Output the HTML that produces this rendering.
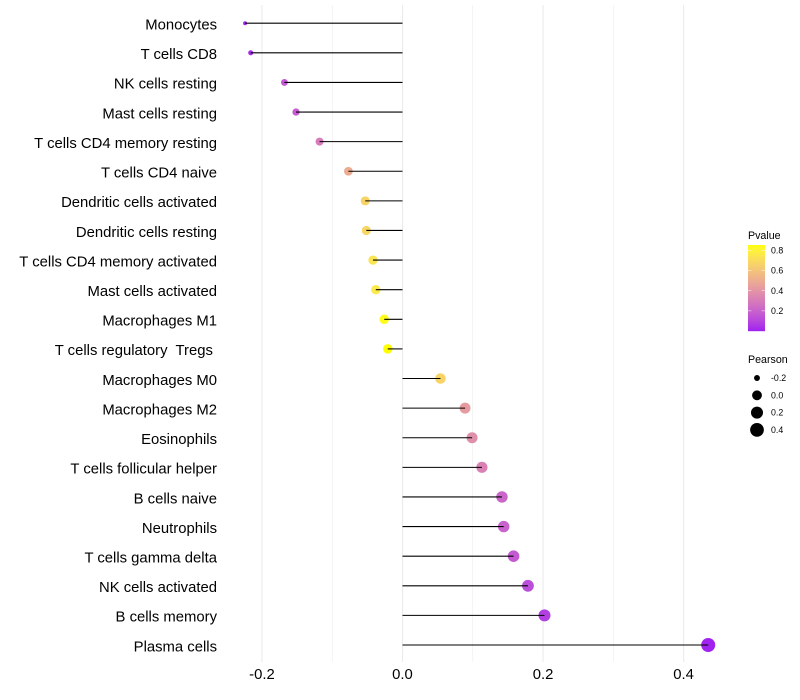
<!DOCTYPE html>
<html>
<head>
<meta charset="utf-8">
<title>Lollipop chart</title>
<style>
html,body{margin:0;padding:0;background:#fff;}
svg{display:block;font-family:"Liberation Sans",sans-serif;}
</style>
</head>
<body>
<svg id="chart" xmlns="http://www.w3.org/2000/svg" width="800" height="700" viewBox="0 0 800 700">
<rect x="0" y="0" width="800" height="700" fill="#ffffff"/>
</svg>
<script>
const categories = ["Monocytes","T cells CD8","NK cells resting","Mast cells resting","T cells CD4 memory resting","T cells CD4 naive","Dendritic cells activated","Dendritic cells resting","T cells CD4 memory activated","Mast cells activated","Macrophages M1","T cells regulatory  Tregs ","Macrophages M0","Macrophages M2","Eosinophils","T cells follicular helper","B cells naive","Neutrophils","T cells gamma delta","NK cells activated","B cells memory","Plasma cells"];
const pearson = [-0.224,-0.216,-0.168,-0.1515,-0.118,-0.077,-0.053,-0.0515,-0.042,-0.038,-0.026,-0.021,0.054,0.089,0.099,0.113,0.1415,0.144,0.158,0.1785,0.202,0.435];
const pvalue = [0.02,0.03,0.17,0.18,0.3,0.5,0.67,0.68,0.74,0.76,0.84,0.855,0.67,0.43,0.38,0.32,0.21,0.2,0.17,0.13,0.08,0.005];
const xMajorTicks = [-0.2,0,0.2,0.4];
const xMinorTicks = [-0.1,0.1,0.3];
const pvalueTicks = [0.8,0.6,0.4,0.2];
const pearsonLegend = [-0.2,0,0.2,0.4];

const svg = document.getElementById('chart');
const NS = 'http://www.w3.org/2000/svg';
function mk(tag, attrs, parent){
  const el = document.createElementNS(NS, tag);
  for (const k in attrs) el.setAttribute(k, attrs[k]);
  (parent || svg).appendChild(el);
  return el;
}
const xScale = v => 402.5 + v * 702.8;
const yScale = i => 23.2 + i * 29.61;
const rScale = v => 2 + 5 * Math.sqrt(Math.max(0, (v + 0.224) / 0.659));

function toLab(hex){
  const c = [1,3,5].map(i => parseInt(hex.substr(i,2),16)/255).map(u => u>0.04045?Math.pow((u+0.055)/1.055,2.4):u/12.92);
  const X=(0.4124*c[0]+0.3576*c[1]+0.1805*c[2])/0.95047, Y=0.2126*c[0]+0.7152*c[1]+0.0722*c[2], Z=(0.0193*c[0]+0.1192*c[1]+0.9505*c[2])/1.08883;
  const f=t=>t>0.008856?Math.cbrt(t):7.787*t+16/116;
  return [116*f(Y)-16,500*(f(X)-f(Y)),200*(f(Y)-f(Z))];
}
function fromLab(l){
  const fy=(l[0]+16)/116, fx=l[1]/500+fy, fz=fy-l[2]/200;
  const g=t=>t*t*t>0.008856?t*t*t:(t-16/116)/7.787;
  const X=g(fx)*0.95047,Y=g(fy),Z=g(fz)*1.08883;
  const rgb=[3.2406*X-1.5372*Y-0.4986*Z,-0.9689*X+1.8758*Y+0.0415*Z,0.0557*X-0.204*Y+1.057*Z];
  return 'rgb('+rgb.map(u=>{u=u>0.0031308?1.055*Math.pow(u,1/2.4)-0.055:12.92*u;return Math.round(255*Math.min(1,Math.max(0,u)));}).join(',')+')';
}
const labLow = toLab('#a020f0'), labHigh = toLab('#ffff00');
const pMax = 0.855;
function colorScale(p){
  const t = Math.min(1, Math.max(0, p / pMax));
  return fromLab(labLow.map((a,i)=>a+(labHigh[i]-a)*t));
}

// grid
xMinorTicks.forEach(t => {
  const el = mk('line',{x1:xScale(t),x2:xScale(t),y1:5,y2:662,stroke:'#ebebeb','stroke-width':0.55});
  
  
});
xMajorTicks.forEach(t => {
  const el = mk('line',{x1:xScale(t),x2:xScale(t),y1:5,y2:662,stroke:'#ebebeb','stroke-width':1.07});
  
  
});

// marks
categories.forEach((c,i) => {
  const dot = mk('circle',{cx:xScale(pearson[i]),cy:yScale(i),r:rScale(pearson[i]),fill:colorScale(pvalue[i])});
  
  
  const seg = mk('line',{x1:xScale(0),x2:xScale(pearson[i]),y1:yScale(i),y2:yScale(i),stroke:'#000','stroke-width':1.07});
  
  
  const lab = mk('text',{x:217,y:yScale(i)+6.3,'text-anchor':'end','font-size':14.85,fill:'#000'});
  
  
  lab.style.whiteSpace = 'pre';
  lab.textContent = c;
});

// x tick labels
xMajorTicks.forEach(t => {
  const el = mk('text',{x:xScale(t),y:679,'text-anchor':'middle','font-size':14.85,fill:'#000'});
  
  
  el.textContent = t === 0 ? '0.0' : t.toFixed(1);
});

// colour legend
const barTop = 245, barH = 86;
const pTitle = mk('text',{x:748,y:239,'font-size':10.67,fill:'#000'});


pTitle.textContent = 'Pvalue';
for (let k = 0; k < barH; k++) {
  const el = mk('rect',{x:748,y:barTop+k,width:17,height:1.2,fill:colorScale(pMax*(1-(k+0.5)/barH))});
  
  
}
const legendY = p => barTop + barH * (1 - p / pMax);
pvalueTicks.forEach(p => {
  const a = mk('line',{x1:748,x2:751.4,y1:legendY(p),y2:legendY(p),stroke:'#fff','stroke-width':0.5});
  
  
  const b = mk('line',{x1:761.6,x2:765,y1:legendY(p),y2:legendY(p),stroke:'#fff','stroke-width':0.5});
  
  
  const t = mk('text',{x:771,y:legendY(p)+3.1,'font-size':8.8,fill:'#000'});
  
  
  t.textContent = p.toFixed(1);
});

// size legend
const sTitle = mk('text',{x:748,y:363,'font-size':10.67,fill:'#000'});


sTitle.textContent = 'Pearson';
pearsonLegend.forEach((v,i) => {
  const cy = 378 + i * 17.3;
  const c = mk('circle',{cx:757,cy:cy,r:rScale(v),fill:'#000'});
  
  
  const t = mk('text',{x:771,y:cy+3.1,'font-size':8.8,fill:'#000'});
  
  
  t.textContent = v.toFixed(1);
});
</script>
</body>
</html>
